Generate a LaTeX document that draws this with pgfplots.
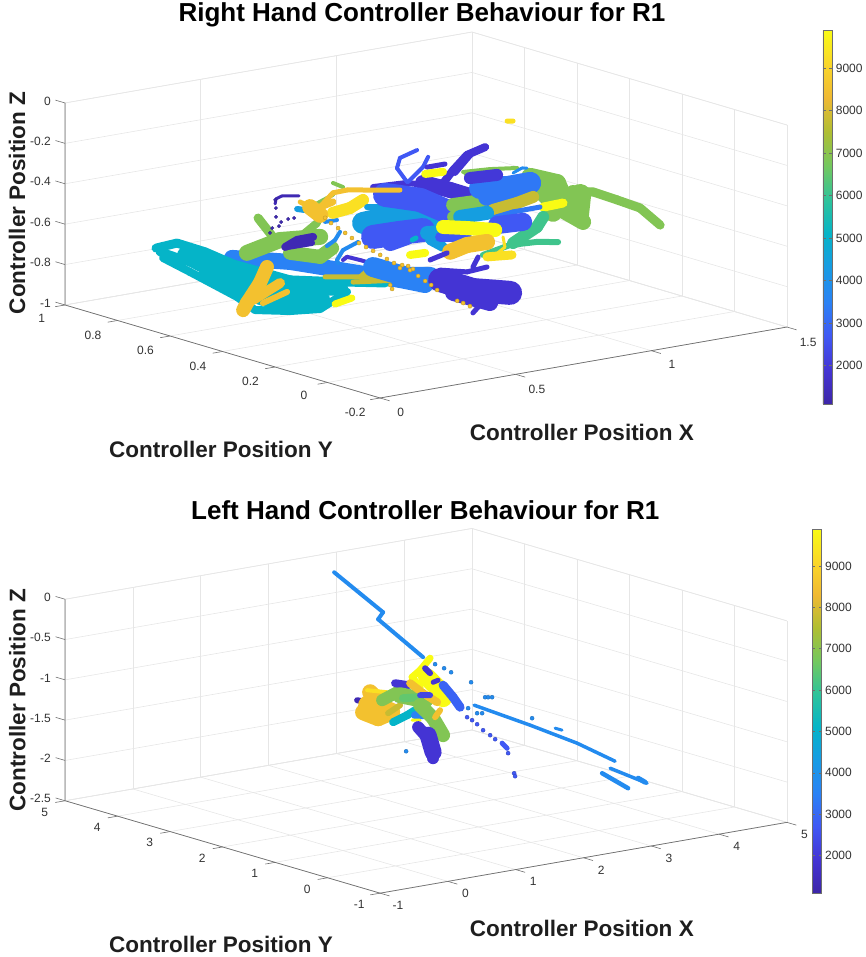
\documentclass[border=0pt]{standalone}
\usepackage{fontspec}
\setmainfont{Liberation Sans}
\usepackage{pgfplots}
\pgfplotsset{compat=1.18}
\definecolor{axgray}{RGB}{110,110,110}
\definecolor{txtgray}{RGB}{50,50,50}
\definecolor{lblgray}{RGB}{30,30,30}
\definecolor{gridgray}{RGB}{230,230,230}
\newcommand\lblfont{\bfseries\fontsize{22.5}{26}\selectfont}
\pgfplotsset{
  /pgf/number format/.cd,1000 sep={},assume math mode=true,fixed,
  /pgfplots/.cd,
  colormap={parula}{rgb255=(61,38,168) rgb255=(68,52,212) rgb255=(64,88,244)
    rgb255=(42,130,245) rgb255=(23,155,228) rgb255=(5,180,200) rgb255=(45,195,155)
    rgb255=(115,200,95) rgb255=(175,190,50) rgb255=(240,185,50) rgb255=(250,215,40)
    rgb255=(249,251,20)},
  mat3d/.style={
    clip=false,grid=major,major grid style={gridgray,line width=0.6pt},
    axis line style={gridgray,line width=0.6pt},tick style={draw=none},
    tick align=outside,major tick length=8pt,scaled ticks=false,
    tick label style={font=\fontsize{12}{14}\selectfont,text=txtgray},
    xticklabel style={xshift=7pt,yshift=-4pt},
    yticklabel style={xshift=-9pt,yshift=-4pt},
    zticklabel style={xshift=-3pt,yshift=-1pt},
    title style={font=\bfseries\fontsize{26}{30}\selectfont},
    point meta min=1100,point meta max=9900,colorbar,
  },
  cbar/.style={
    width=9.5pt,ytick={2000,3000,4000,5000,6000,7000,8000,9000},
    axis line style={axgray,line width=0.6pt},tick style={axgray,line width=0.6pt},
    major tick length=3pt,tick align=inside,
    tick label style={font=\fontsize{12}{14}\selectfont,text=txtgray},
    yticklabel pos=right,
  },
}
\newcommand\strk[3]{\addplot3[mesh,forget plot,point meta=#1,line width=#2pt,line cap=round,line join=round] coordinates {#3};}
\newcommand\pts[3]{\addplot3[scatter,only marks,forget plot,point meta=#1,mark=*,mark size=#2pt] coordinates {#3};}
\begin{document}
\begin{tikzpicture}
\path[use as bounding box] (0,0) rectangle (865pt,-957pt);
\begin{axis}[mat3d,at={(426pt,-215pt)},anchor=center,
  x={(271.3pt,47.3pt)},y={(-262.5pt,77.5pt)},z={(0pt,202pt)},
  xmin=0,xmax=1.5,ymin=-0.2,ymax=1,zmin=-1,zmax=0,
  xtick={0,0.5,1,1.5},ytick={-0.2,0,0.2,0.4,0.6,0.8,1},ztick={-1,-0.8,-0.6,-0.4,-0.2,0},
  xticklabels={0,0.5,1,1.5},yticklabels={-0.2,0,0.2,0.4,0.6,0.8,1},zticklabels={-1,-0.8,-0.6,-0.4,-0.2,0},
  title={Right Hand Controller Behaviour for R1},
  every axis title/.append style={at={(rel axis cs:0.103,0,1.83)},anchor=center},
  xlabel={Controller Position X},ylabel={Controller Position Y},zlabel={Controller Position Z},
  every axis x label/.style={at={(rel axis cs:0.496,0,-0.347)},anchor=center,font=\lblfont,text=lblgray},
  every axis y label/.style={at={(rel axis cs:0,0.505,-0.485)},anchor=center,font=\lblfont,text=lblgray},
  every axis z label/.style={at={(rel axis cs:0,1.152,0.436)},anchor=center,rotate=90,font=\lblfont,text=lblgray},
  colorbar style={cbar,height=374pt,at={(parent axis.center)},anchor=center,xshift=393pt,yshift=-2pt},
]
\draw[axgray,line width=0.7pt] (axis cs:1.5,-0.2,-1)--(axis cs:0,-0.2,-1)--(axis cs:0,1,-1)--(axis cs:0,1,0);
\pgfplotsinvokeforeach{0,0.5,1,1.5}{\draw[axgray,line width=0.6pt] (axis cs:#1,-0.2,-1)--(axis cs:#1,-0.2365,-1);}
\pgfplotsinvokeforeach{-0.2,0,0.2,0.4,0.6,0.8,1}{\draw[axgray,line width=0.6pt] (axis cs:0,#1,-1)--(axis cs:-0.0365,#1,-1);}
\pgfplotsinvokeforeach{-1,-0.8,-0.6,-0.4,-0.2,0}{\draw[axgray,line width=0.6pt] (axis cs:0,1,#1)--(axis cs:0,1.0365,#1);}
% teal leaf and blue band
\strk{3500}{16}{(0.035,0.4,-0.545)(0.249,0.4,-0.615)(0.433,0.4,-0.698)(0.654,0.4,-0.799)(0.747,0.4,-0.846)}
\strk{5100}{9}{(-0.245,0.4,-0.431)(-0.168,0.4,-0.424)(-0.064,0.4,-0.492)(0.039,0.4,-0.576)(0.249,0.4,-0.704)(0.452,0.4,-0.762)(0.599,0.4,-0.801)}
\strk{5100}{9}{(-0.23,0.4,-0.453)(-0.12,0.4,-0.529)(0.009,0.4,-0.648)(0.146,0.4,-0.764)(0.36,0.4,-0.819)}
\strk{5100}{8}{(-0.219,0.4,-0.486)(-0.12,0.4,-0.578)(0.054,0.4,-0.743)(0.12,0.4,-0.823)(0.249,0.4,-0.858)(0.36,0.4,-0.874)(0.459,0.4,-0.812)}
\strk{5100}{16}{(-0.138,0.4,-0.49)(0.009,0.4,-0.608)(0.175,0.4,-0.712)(0.433,0.4,-0.787)}
\strk{5100}{20}{(-0.05,0.4,-0.6)(0.028,0.4,-0.677)(0.175,0.4,-0.776)(0.36,0.4,-0.83)}
\strk{9900}{7}{(0.415,0.4,-0.862)(0.477,0.4,-0.847)}
\strk{8500}{14}{(0.164,0.4,-0.62)(0.138,0.4,-0.693)(0.09,0.4,-0.781)(0.076,0.4,-0.813)}
\strk{8500}{10}{(0.212,0.4,-0.711)(0.113,0.4,-0.771)}
\strk{8500}{6}{(0.238,0.4,-0.761)(0.149,0.4,-0.795)}
\strk{7800}{5}{(0.378,0.4,-0.719)(0.507,0.4,-0.75)(0.665,0.4,-0.787)}
\strk{7800}{5}{(0.507,0.4,-0.75)(0.536,0.4,-0.723)(0.592,0.4,-0.711)}
\strk{7800}{5}{(0.481,0.4,-0.769)(0.654,0.4,-0.799)}
% green star at the left
\strk{6900}{16}{(0.09,0.4,-0.533)(0.212,0.4,-0.498)(0.36,0.4,-0.517)}
\strk{6900}{9}{(0.131,0.4,-0.37)(0.186,0.4,-0.477)}
\strk{6900}{14}{(0.249,0.4,-0.57)(0.36,0.4,-0.616)(0.404,0.4,-0.583)}
\strk{6900}{8}{(0.348,0.4,-0.446)(0.286,0.4,-0.5)}
\strk{6900}{4}{(0.407,0.4,-0.261)(0.444,0.4,-0.29)}
\strk{6900}{4}{(0.323,0.4,-0.361)(0.407,0.4,-0.32)}
\strk{1300}{8}{(0.231,0.4,-0.537)(0.275,0.4,-0.512)(0.334,0.4,-0.511)}
\strk{1300}{6}{(0.238,0.4,-0.539)(0.33,0.4,-0.54)}
\strk{1300}{3}{(0.194,0.4,-0.315)(0.197,0.4,-0.291)(0.219,0.4,-0.281)(0.282,0.4,-0.296)}
\pts{1300}{1.7}{(0.175,0.4,-0.454)(0.183,0.4,-0.432)(0.208,0.4,-0.428)(0.216,0.4,-0.41)(0.242,0.4,-0.401)(0.264,0.4,-0.401)(0.197,0.4,-0.38)(0.197,0.4,-0.336)(0.194,0.4,-0.295)}
\strk{3800}{4}{(0.433,0.4,-0.509)(0.415,0.4,-0.545)(0.385,0.4,-0.568)}
\strk{3800}{4}{(0.5,0.4,-0.575)(0.444,0.4,-0.602)(0.422,0.4,-0.646)(0.426,0.4,-0.662)}
\strk{3800}{4}{(0.378,0.4,-0.447)(0.422,0.4,-0.448)}
\strk{1900}{4}{(0.444,0.4,-0.651)(0.459,0.4,-0.639)(0.507,0.4,-0.666)(0.544,0.4,-0.689)}
\strk{4400}{6}{(0.275,0.4,-0.359)(0.304,0.4,-0.371)}
\strk{9300}{12}{(0.407,0.4,-0.409)(0.47,0.4,-0.4)(0.518,0.4,-0.371)}
% central mass
\strk{4400}{22}{(0.518,0.4,-0.485)(0.618,0.4,-0.479)(0.776,0.4,-0.531)}
\strk{4400}{6}{(0.533,0.4,-0.41)(0.629,0.4,-0.432)(0.739,0.4,-0.487)}
\strk{1900}{6}{(0.555,0.4,-0.316)(0.68,0.4,-0.325)(0.754,0.4,-0.353)}
\strk{1900}{16}{(0.739,0.4,-0.339)(0.839,0.4,-0.397)(0.923,0.4,-0.451)}
\strk{1900}{8}{(0.802,0.4,-0.374)(0.85,0.4,-0.301)(0.901,0.4,-0.238)(0.968,0.4,-0.215)}
\strk{1900}{6}{(0.857,0.4,-0.317)(0.92,0.4,-0.232)}
\strk{2700}{4}{(0.717,0.4,-0.171)(0.654,0.4,-0.195)(0.643,0.4,-0.243)(0.68,0.4,-0.32)}
\strk{2700}{4}{(0.758,0.4,-0.214)(0.739,0.4,-0.26)(0.684,0.4,-0.321)}
\strk{1900}{5}{(0.82,0.4,-0.264)(0.754,0.4,-0.264)}
\strk{9900}{8}{(0.747,0.4,-0.296)(0.813,0.4,-0.301)}
\strk{2700}{24}{(0.599,0.4,-0.365)(0.728,0.4,-0.42)(0.839,0.4,-0.51)}
\strk{2700}{24}{(0.555,0.4,-0.563)(0.654,0.4,-0.566)(0.739,0.4,-0.572)}
\strk{2700}{16}{(0.618,0.4,-0.608)(0.68,0.4,-0.592)}
\strk{5100}{5}{(0.699,0.4,-0.612)(0.713,0.4,-0.605)}
\strk{4400}{14}{(0.754,0.4,-0.59)(0.839,0.4,-0.604)}
\strk{4400}{10}{(0.765,0.4,-0.627)(0.813,0.4,-0.673)}
\strk{2700}{10}{(0.802,0.4,-0.621)(0.901,0.4,-0.644)}
% green wing on the right
\strk{6900}{14}{(0.85,0.4,-0.474)(0.986,0.4,-0.481)}
\strk{6900}{12}{(0.85,0.4,-0.533)(0.923,0.4,-0.501)}
\strk{6900}{4}{(0.887,0.4,-0.319)(0.986,0.4,-0.328)(1.086,0.4,-0.346)}
\strk{6900}{4}{(0.894,0.4,-0.325)(0.92,0.4,-0.381)(0.975,0.4,-0.478)}
\strk{6900}{18}{(1.134,0.4,-0.401)(1.233,0.4,-0.455)(1.255,0.4,-0.529)(1.218,0.4,-0.599)}
\strk{6900}{24}{(1.17,0.4,-0.45)(1.237,0.4,-0.555)}
\strk{6900}{22}{(0.931,0,-0.29)(0.923,0,-0.387)}
\strk{6900}{16}{(0.905,0,-0.274)(0.846,0,-0.33)(0.942,0,-0.426)}
\strk{6900}{9}{(0.905,0,-0.269)(0.979,0,-0.286)(1.067,0,-0.346)(1.152,0,-0.406)(1.226,0,-0.508)}
\strk{3300}{22}{(0.949,0.4,-0.413)(1.049,0.4,-0.432)(1.134,0.4,-0.431)}
\strk{3300}{18}{(0.975,0.4,-0.463)(1.086,0.4,-0.469)}
\strk{2000}{12}{(0.912,0.4,-0.355)(1.012,0.4,-0.363)}
\strk{3800}{3}{(1.071,0.4,-0.367)(1.104,0.4,-0.35)(1.122,0.4,-0.355)}
\strk{7800}{12}{(0.997,0.4,-0.533)(1.086,0.4,-0.519)(1.145,0.4,-0.503)}
\strk{9900}{9}{(1.182,0.4,-0.562)(1.255,0.4,-0.559)}
\strk{3300}{5}{(0.997,0.4,-0.572)(1.071,0.4,-0.56)(1.17,0.4,-0.559)}
\strk{4400}{14}{(0.876,0.4,-0.539)(0.975,0.4,-0.542)}
\strk{6100}{12}{(1.071,0.4,-0.714)(1.159,0.4,-0.655)(1.182,0.4,-0.611)}
\strk{6100}{6}{(0.96,0.4,-0.747)(1.06,0.4,-0.721)(1.159,0.4,-0.729)(1.237,0.4,-0.748)}
\strk{2700}{18}{(1.012,0.4,-0.611)(1.108,0.4,-0.618)}
\strk{9900}{14}{(0.813,0.4,-0.574)(0.901,0.4,-0.6)(1.005,0.4,-0.634)}
\strk{8500}{16}{(0.839,0.4,-0.703)(0.901,0.4,-0.684)(0.975,0.4,-0.686)}
\strk{9300}{3}{(1.034,0.4,-0.675)(1.041,0.4,-0.727)(1.005,0.4,-0.757)}
\strk{9300}{9}{(0.975,0.4,-0.76)(1.067,0.4,-0.772)}
\strk{9300}{5}{(1.049,0.4,-0.105)(1.071,0.4,-0.11)}
% lower part
\strk{3500}{20}{(0.555,0.4,-0.712)(0.68,0.4,-0.79)(0.765,0.4,-0.81)}
\strk{9900}{8}{(0.691,0.4,-0.684)(0.747,0.4,-0.687)}
\strk{1900}{5}{(0.765,0.4,-0.726)(0.828,0.4,-0.706)}
\strk{1900}{24}{(0.415,0,-0.59)(0.536,0,-0.668)(0.673,0,-0.714)}
\strk{1900}{16}{(0.463,0,-0.665)(0.599,0,-0.747)}
\strk{1900}{5}{(0.536,0,-0.781)(0.562,0,-0.748)}
\strk{1900}{5}{(0.415,0,-0.541)(0.514,0,-0.573)(0.588,0,-0.566)}
\strk{1900}{5}{(0.555,0,-0.509)(0.536,0,-0.554)}
% last time steps, orange on top
\strk{8500}{5}{(0.286,0.4,-0.327)(0.348,0.4,-0.382)(0.407,0.4,-0.31)(0.459,0.4,-0.308)(0.654,0.4,-0.354)}
\strk{8500}{16}{(0.323,0.4,-0.361)(0.36,0.4,-0.408)}
\strk{8500}{7}{(0.334,0.4,-0.378)(0.407,0.4,-0.355)}
\pts{8500}{2}{(0.378,0.4,-0.427)(0.4,0.4,-0.458)(0.426,0.4,-0.489)(0.452,0.4,-0.519)(0.477,0.4,-0.55)(0.503,0.4,-0.581)(0.529,0.4,-0.607)(0.555,0.4,-0.632)(0.581,0.4,-0.658)(0.606,0.4,-0.684)(0.632,0.4,-0.71)(0.662,0.4,-0.727)(0.691,0.4,-0.759)(0.721,0.4,-0.795)(0.747,0.4,-0.826)(0.769,0.4,-0.851)(0.791,0.4,-0.881)(0.865,0.4,-0.952)(0.887,0.4,-0.968)(0.912,0.4,-0.989)(0.618,0.4,-0.816)(0.625,0.4,-0.837)(0.654,0.4,-0.74)(0.684,0.4,-0.737)(0.702,0.4,-0.756)}
\end{axis}
\begin{axis}[mat3d,at={(426pt,-710.8pt)},anchor=center,
  x={(67.8pt,11.8pt)},y={(-52.5pt,15.4pt)},z={(0pt,80.6pt)},
  xmin=-1,xmax=5,ymin=-1,ymax=5,zmin=-2.5,zmax=0,
  xtick={-1,0,1,2,3,4,5},ytick={-1,0,1,2,3,4,5},ztick={-2.5,-2,-1.5,-1,-0.5,0},
  zticklabels={-2.5,-2,-1.5,-1,-0.5,0},
  xticklabel style={xshift=-3pt,yshift=2pt},
  yticklabel style={xshift=3pt,yshift=2pt},
  title={Left Hand Controller Behaviour for R1},
  every axis title/.append style={at={(rel axis cs:0.111,0,1.833)},anchor=center},
  xlabel={Controller Position X},ylabel={Controller Position Y},zlabel={Controller Position Z},
  every axis x label/.style={at={(rel axis cs:0.496,0,-0.348)},anchor=center,font=\lblfont,text=lblgray},
  every axis y label/.style={at={(rel axis cs:0,0.505,-0.485)},anchor=center,font=\lblfont,text=lblgray},
  every axis z label/.style={at={(rel axis cs:0,1.152,0.428)},anchor=center,rotate=90,font=\lblfont,text=lblgray},
  colorbar style={cbar,height=364pt,at={(parent axis.center)},anchor=center,xshift=382.3pt,yshift=0pt},
]
\draw[axgray,line width=0.7pt] (axis cs:5,-1,-2.5)--(axis cs:-1,-1,-2.5)--(axis cs:-1,5,-2.5)--(axis cs:-1,5,0);
\pgfplotsinvokeforeach{-1,0,1,2,3,4,5}{\draw[axgray,line width=0.6pt] (axis cs:#1,-1,-2.5)--(axis cs:#1,-1.18,-2.5);}
\pgfplotsinvokeforeach{-1,0,1,2,3,4,5}{\draw[axgray,line width=0.6pt] (axis cs:-1,#1,-2.5)--(axis cs:-1.145,#1,-2.5);}
\pgfplotsinvokeforeach{-2.5,-2,-1.5,-1,-0.5,0}{\draw[axgray,line width=0.6pt] (axis cs:-1,5,#1)--(axis cs:-1,5.18,#1);}
\strk{3800}{4}{(2.968,5,-0.246)(3.69,5,-0.848)(3.617,5,-0.924)(4.28,5,-1.492)}
\strk{3800}{3.5}{(1.161,0,-0.675)(1.987,0,-1.044)(2.68,0,-1.369)(3.24,0,-1.675)}
\strk{3800}{3.5}{(3.167,0,-1.751)(3.712,0,-2.017)}
\strk{3800}{4.5}{(3.049,0,-1.796)(3.432,0,-2.038)}
\strk{3800}{5}{(3.58,0,-1.935)(3.683,0,-2)}
\strk{3800}{3}{(2.355,0,-1.135)(2.458,0,-1.175)}
\strk{2700}{5}{(3.123,2,-1.816)(3.196,2,-1.89)}
\pts{3800}{2}{(2.016,0,-0.962)(2.134,2,-0.691)(2.267,2,-0.761)(2.37,2,-0.826)(2.665,2,-0.993)(2.872,2,-1.209)(2.916,2,-1.216)(2.975,2,-1.224)(2.754,2,-1.39)(2.828,2,-1.401)(2.621,2,-1.308)(1.707,2,-1.709)}
\pts{2700}{2}{(2.606,2,-1.418)(2.68,2,-1.466)(2.754,2,-1.527)(2.842,2,-1.614)(2.946,2,-1.691)(3.02,2,-1.752)(3.211,2,-1.953)(3.3,2,-2.215)(3.314,2,-2.254)}
% cluster
\strk{1300}{6}{(0.984,2,-0.97)(1.22,2,-1.041)}
\strk{8500}{20}{(1.146,2,-1.056)(1.471,2,-1.19)}
\strk{8500}{16}{(1.072,2,-1.132)(1.294,2,-1.238)(1.5,2,-1.194)}
\strk{8500}{16}{(1.176,2,-0.899)(1.353,2,-1.086)}
\strk{9300}{4}{(1.131,2,-0.867)(1.426,2,-0.936)}
\strk{6900}{12}{(1.353,2,-1.024)(1.574,2,-0.957)}
\strk{7800}{6}{(1.441,2,-1.198)(1.618,2,-1.125)}
\strk{1900}{8}{(1.544,2,-0.841)(1.736,2,-0.894)}
\strk{6900}{16}{(1.618,2,-1.001)(1.987,2,-1.117)}
\strk{5100}{8}{(1.515,2,-1.32)(1.721,2,-1.264)(1.839,2,-1.219)}
\strk{9900}{7}{(2.06,2,-0.606)(1.913,2,-0.734)(1.795,2,-0.803)(1.913,2,-0.945)}
\strk{9900}{18}{(2.016,2,-0.836)(2.208,2,-1.025)(2.252,2,-1.13)}
\strk{1900}{6}{(1.987,2,-0.72)(2.06,2,-0.792)}
\strk{1900}{5}{(2.105,2,-0.911)(2.179,2,-0.897)}
\strk{8500}{8}{(1.766,2,-0.873)(1.957,2,-1.025)(2.164,2,-1.167)}
\strk{6500}{8}{(1.662,2,-1.044)(1.913,2,-1.069)}
\strk{3500}{8}{(1.839,2,-1.281)(1.957,2,-1.298)}
\strk{2300}{6}{(1.913,2,-1.044)(2.06,2,-1.065)}
\strk{9900}{3}{(1.795,2,-1.336)(1.913,2,-1.354)}
\strk{6900}{14}{(1.913,2,-1.168)(2.105,2,-1.357)(2.252,2,-1.589)}
\strk{8500}{6}{(2.208,2,-1.273)(2.134,2,-1.349)}
\strk{1900}{12}{(1.884,2,-1.436)(2.016,2,-1.58)(2.105,2,-1.717)(2.105,2,-1.853)}
\strk{1900}{17}{(2.031,2,-1.557)(2.105,2,-1.779)}
\strk{2900}{9}{(2.252,2,-0.969)(2.4,2,-1.14)(2.503,2,-1.279)}
\end{axis}
\end{tikzpicture}
\end{document}
